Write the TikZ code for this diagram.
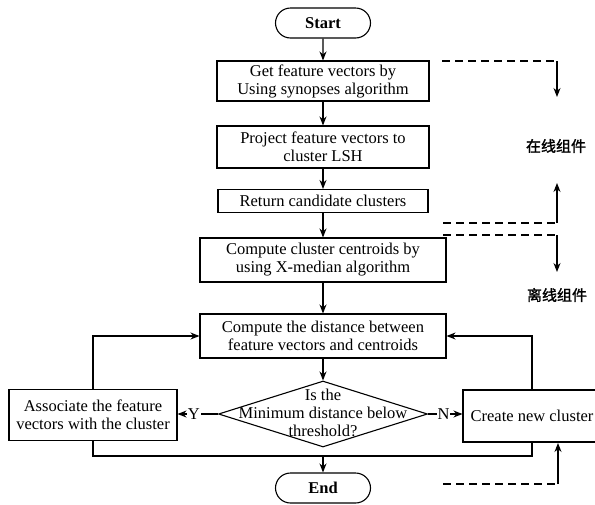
\documentclass[tikz,border=0pt]{standalone}
\usepackage{fontspec}
\setmainfont{Liberation Serif}
\newfontfamily\cjk[FakeBold=1.5]{Noto Sans CJK SC}
\usetikzlibrary{shapes.geometric,shapes.misc,arrows.meta}

\begin{document}
\begin{tikzpicture}[x=1pt, y=-1pt,
  txt/.style={font=\fontsize{16.5}{18}\selectfont},
  terminal/.style={txt, draw, line width=1.1pt, rounded rectangle, minimum width=95, minimum height=30, inner sep=0pt, font=\fontsize{16.5}{18}\selectfont\bfseries},
  procbox/.style={txt, draw, line width=1.1pt, align=center, inner sep=0pt},
  decision/.style={draw, line width=1.1pt, diamond, minimum width=209, minimum height=66, inner sep=0pt},
  flow/.style={line width=1.1pt, -{Stealth[length=9pt,width=7pt]}},
  link/.style={line width=1.1pt},
  dashlink/.style={line width=1.1pt, dash pattern=on 8pt off 5pt},
  yn/.style={txt, fill=white, inner sep=1pt}]
\useasboundingbox (0,0) rectangle (595,504);
\clip (0,0) rectangle (595,504);

%%%%%%%%%%
% Main chain
%%%%%%%%%%
\node[terminal] (start) at (323,23) {Start};
\node[procbox, minimum width=212, minimum height=40] (getvec) at (323,81) {Get feature vectors by\\Using synopses algorithm};
\node[procbox, minimum width=212, minimum height=42] (project) at (323,147) {Project feature vectors to\\cluster LSH};
\node[procbox, minimum width=210, minimum height=23] (retcand) at (323,201) {Return candidate clusters};
\node[procbox, minimum width=246, minimum height=44] (centroid) at (323,260) {Compute cluster centroids by\\using X-median algorithm};
\node[procbox, minimum width=246, minimum height=44] (distance) at (323,336) {Compute the distance between\\feature vectors and centroids};
\node[decision] (thresh) at (323,414) {};
\node[txt, align=center, inner sep=0pt] (threshtxt) at (323,413) {Is the\\Minimum distance below\\threshold?};
\node[terminal] (finish) at (323,488) {End};

% Branches
\node[procbox, minimum width=168, minimum height=51] (assoc) at (93,415) {Associate the feature\\vectors with the cluster};
\node[procbox, minimum width=138, minimum height=52] (newclus) at (532,416) {Create new cluster};
\coordinate (join) at (323,456);

% Arrows
\draw[flow] (start) -- (getvec);
\draw[flow] (getvec) -- (project);
\draw[flow] (project) -- (retcand);
\draw[flow] (retcand) -- (centroid);
\draw[flow] (centroid) -- (distance);
\draw[flow] (distance) -- (thresh);
\draw[flow] (thresh.west) -- node[yn, pos=0.6] {Y} (thresh.west -| assoc.east);
\draw[flow] (thresh.east) -- node[yn, pos=0.45] {N} (thresh.east -| newclus.west);
\draw[flow] (assoc.north) |- (distance.west);
\draw[flow] (newclus.north) |- (distance.east);
\draw[link] (assoc.south) |- (join) -| (newclus.south);
\draw[flow] (join) -- (finish);

%%%%%%%%%%
% Online / offline marks
%%%%%%%%%%
\coordinate (onA) at (442,61);
\coordinate (onB) at (557,61);
\coordinate (onC) at (557,97);
\coordinate (onD) at (443,223);
\coordinate (onE) at (557,223);
\coordinate (onF) at (557,183);
\coordinate (offA) at (443,235);
\coordinate (offB) at (557,235);
\coordinate (offC) at (557,272);
\coordinate (offD) at (443,484);
\coordinate (offE) at (558,484);
\coordinate (offF) at (558,443);
\draw[dashlink] (onA) -- (onB);
\draw[flow] (onB) -- (onC);
\draw[dashlink] (onD) -- (onE);
\draw[flow] (onE) -- (onF);
\draw[dashlink] (offA) -- (offB);
\draw[flow] (offB) -- (offC);
\draw[dashlink] (offD) -- (offE);
\draw[flow] (offE) -- (offF);
\node[font=\cjk\fontsize{15}{17}\selectfont] (online) at (556,146) {在线组件};
\node[font=\cjk\fontsize{15}{17}\selectfont] (offline) at (557,295) {离线组件};

\end{tikzpicture}
\end{document}
